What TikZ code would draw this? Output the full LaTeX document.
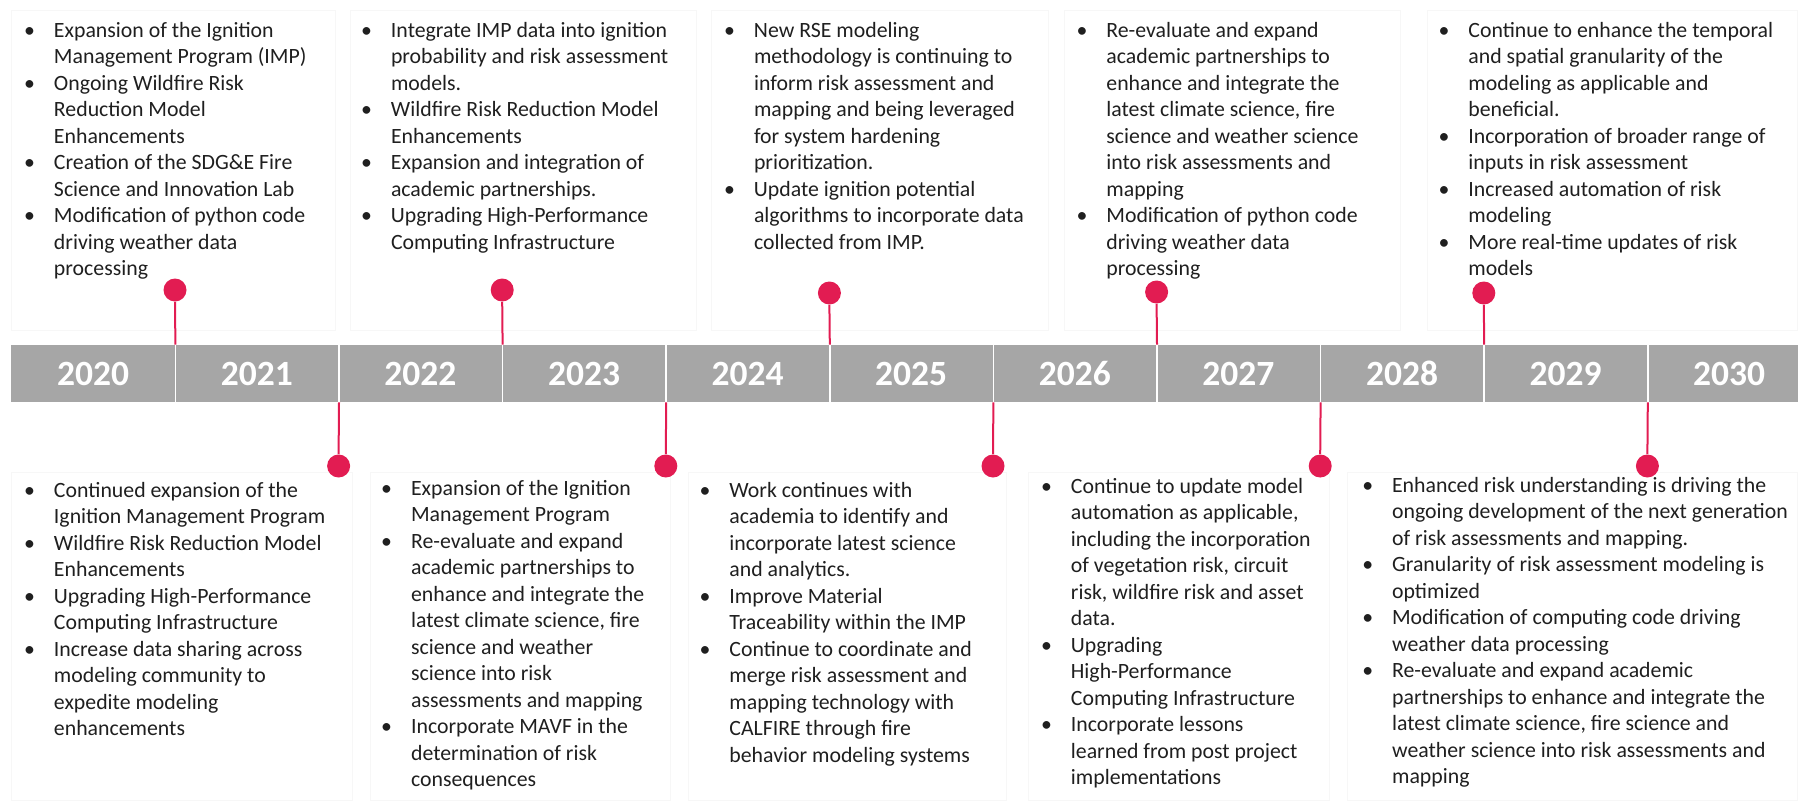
\documentclass[tikz,border=0pt]{standalone}
\usepackage{fontspec}
\setmainfont{Carlito}
\definecolor{dotred}{RGB}{226,28,82}
\definecolor{bargray}{RGB}{166,166,166}
\newcommand\bl{\llap{•\hspace{9.5pt}}}
\newcommand\fst{\rule{0pt}{9pt}}
\begin{document}
\begin{tikzpicture}[x=0.5pt,y=-0.5pt,
  txt/.style={anchor=north west, inner sep=0pt, align=left, font=\fontsize{10.9}{13.25}\selectfont, text=black!88},
  yrcell/.style={fill=bargray, text=white, inner sep=0pt, minimum width=81.8pt, minimum height=28.5pt, font=\fontsize{17.75}{20}\selectfont\bfseries},
  dot/.style={circle, fill=dotred, inner sep=0pt, minimum size=11.5pt},
  pin/.style={draw=dotred, line width=1pt},
  faint/.style={draw=black!3, line width=0.5pt},
  divider/.style={draw=white, line width=0.8pt}]
\useasboundingbox (0,0) rectangle (1798,803);
% faint background boxes
\draw[faint] (11,10) rectangle (335,330);
\draw[faint] (350,10) rectangle (696,330);
\draw[faint] (711,10) rectangle (1048,330);
\draw[faint] (1064,10) rectangle (1400,330);
\draw[faint] (1427,10) rectangle (1797,330);
\draw[faint] (11,472) rectangle (352,800);
\draw[faint] (370,472) rectangle (670,800);
\draw[faint] (688,472) rectangle (1006,800);
\draw[faint] (1028,472) rectangle (1329,800);
\draw[faint] (1347,472) rectangle (1797,800);
% timeline bar
\foreach \yr [count=\i from 0] in {2020,2021,2022,2023,2024,2025,2026,2027,2028,2029,2030}
  \node[yrcell] (y\yr) at ({11.4+163.6*(\i+0.5)},373.5) {\yr};
\foreach \yr in {2020,2021,2022,2023,2024,2025,2026,2027,2028,2029}
  \draw[divider] (y\yr.north east) -- (y\yr.south east);
% top pins
\node[dot] (d1) at (175,290) {};
\node[dot] (d2) at (502.2,290) {};
\node[dot] (d3) at (829.4,293) {};
\node[dot] (d4) at (1156.6,292) {};
\node[dot] (d5) at (1483.8,293) {};
\draw[pin] (d1.south) -- (y2020.north east);
\draw[pin] (d2.south) -- (y2022.north east);
\draw[pin] (d3.south) -- (y2024.north east);
\draw[pin] (d4.south) -- (y2026.north east);
\draw[pin] (d5.south) -- (y2028.north east);
% bottom pins
\node[dot] (e1) at (338.6,466) {};
\node[dot] (e2) at (665.8,466) {};
\node[dot] (e3) at (993,466) {};
\node[dot] (e4) at (1320.2,466) {};
\node[dot] (e5) at (1647.4,466) {};
\draw[pin] (y2021.south east) -- (e1.north);
\draw[pin] (y2023.south east) -- (e2.north);
\draw[pin] (y2025.south east) -- (e3.north);
\draw[pin] (y2027.south east) -- (e4.north);
\draw[pin] (y2029.south east) -- (e5.north);
% top texts
\node[txt] (t1) at (53.6,19) {\fst\bl Expansion of the Ignition\\Management Program (IMP)\\\bl Ongoing Wildfire Risk\\Reduction Model\\Enhancements\\\bl Creation of the SDG\&E Fire\\Science and Innovation Lab\\\bl Modification of python code\\driving weather data\\processing};
\node[txt] (t2) at (390.6,19) {\fst\bl Integrate IMP data into ignition\\probability and risk assessment\\models.\\\bl Wildfire Risk Reduction Model\\Enhancements\\\bl Expansion and integration of\\academic partnerships.\\\bl Upgrading High-Performance\\Computing Infrastructure};
\node[txt] (t3) at (753.6,19) {\fst\bl New RSE modeling\\methodology is continuing to\\inform risk assessment and\\mapping and being leveraged\\for system hardening\\prioritization.\\\bl Update ignition potential\\algorithms to incorporate data\\collected from IMP.};
\node[txt] (t4) at (1106,19) {\fst\bl Re-evaluate and expand\\academic partnerships to\\enhance and integrate the\\latest climate science, fire\\science and weather science\\into risk assessments and\\mapping\\\bl Modification of python code\\driving weather data\\processing};
\node[txt] (t5) at (1468,19) {\fst\bl Continue to enhance the temporal\\and spatial granularity of the\\modeling as applicable and\\beneficial.\\\bl Incorporation of broader range of\\inputs in risk assessment\\\bl Increased automation of risk\\modeling\\\bl More real-time updates of risk\\models};
% bottom texts
\node[txt] (b1) at (53.6,479) {\fst\bl Continued expansion of the\\Ignition Management Program\\\bl Wildfire Risk Reduction Model\\Enhancements\\\bl Upgrading High-Performance\\Computing Infrastructure\\\bl Increase data sharing across\\modeling community to\\expedite modeling\\enhancements};
\node[txt] (b2) at (410.7,477) {\fst\bl Expansion of the Ignition\\Management Program\\\bl Re-evaluate and expand\\academic partnerships to\\enhance and integrate the\\latest climate science, fire\\science and weather\\science into risk\\assessments and mapping\\\bl Incorporate MAVF in the\\determination of risk\\consequences};
\node[txt] (b3) at (729,479) {\fst\bl Work continues with\\academia to identify and\\incorporate latest science\\and analytics.\\\bl Improve Material\\Traceability within the IMP\\\bl Continue to coordinate and\\merge risk assessment and\\mapping technology with\\CALFIRE through fire\\behavior modeling systems};
\node[txt] (b4) at (1070.5,475) {\fst\bl Continue to update model\\automation as applicable,\\including the incorporation\\of vegetation risk, circuit\\risk, wildfire risk and asset\\data.\\\bl Upgrading\\High-Performance\\Computing Infrastructure\\\bl Incorporate lessons\\learned from post project\\implementations};
\node[txt] (b5) at (1391.7,474) {\fst\bl Enhanced risk understanding is driving the\\ongoing development of the next generation\\of risk assessments and mapping.\\\bl Granularity of risk assessment modeling is\\optimized\\\bl Modification of computing code driving\\weather data processing\\\bl Re-evaluate and expand academic\\partnerships to enhance and integrate the\\latest climate science, fire science and\\weather science into risk assessments and\\mapping};
\end{tikzpicture}
\end{document}
